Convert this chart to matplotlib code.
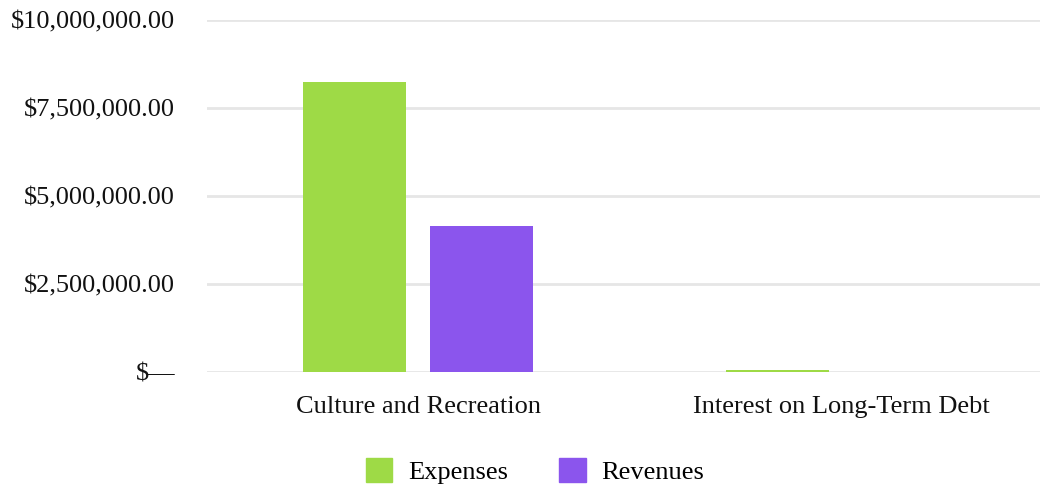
import matplotlib
matplotlib.use("Agg")
import matplotlib.pyplot as plt
import numpy as np
from matplotlib.patches import Patch
from matplotlib.ticker import FuncFormatter

categories = ["Culture and Recreation", "Interest on Long-Term Debt"]
expenses = [8240000, 57000]
revenues = [4150000, 0]
series_names = ["Expenses", "Revenues"]
colors = ["#9eda46", "#8b55ed"]

plt.rcParams['font.family'] = ['Liberation Serif', 'DejaVu Serif']

fig = plt.figure(figsize=(10.4, 4.87), dpi=100)
ax = fig.add_axes([207 / 1040, 1 - 372 / 487, 1 - 207 / 1040, (372 - 20) / 487])

x = np.arange(len(categories))
w = 0.244
ax.bar(x - 0.15, expenses, w, color=colors[0], zorder=3)
ax.bar(x + 0.15, revenues, w, color=colors[1], zorder=3)

ax.set_xlim(-0.5, 1.471)
ax.set_ylim(0, 10000000)
ax.set_yticks([0, 2500000, 5000000, 7500000, 10000000])


def money(v, pos):
    if v == 0:
        return "$\u2014"
    return "${:,.2f}".format(v)


ax.yaxis.set_major_formatter(FuncFormatter(money))
ax.set_xticks(x)
ax.set_xticklabels(categories)
ax.tick_params(axis='both', length=0, labelsize=19, colors='#111111')
ax.tick_params(axis='y', pad=23)
ax.tick_params(axis='x', pad=17)
ax.grid(axis='y', color='#e6e6e6', linewidth=2, zorder=0)
for s in ax.spines.values():
    s.set_visible(False)
ax.set_facecolor('none')

handles = [Patch(color=c, label=n) for c, n in zip(colors, series_names)]
fig.legend(handles=handles, loc='center', bbox_to_anchor=(535 / 1040, 1 - 471 / 487),
           ncol=2, frameon=False, fontsize=19, handlelength=1.0, handleheight=1.0,
           handletextpad=0.6, columnspacing=1.95)

fig.savefig("out.png", dpi=100)
